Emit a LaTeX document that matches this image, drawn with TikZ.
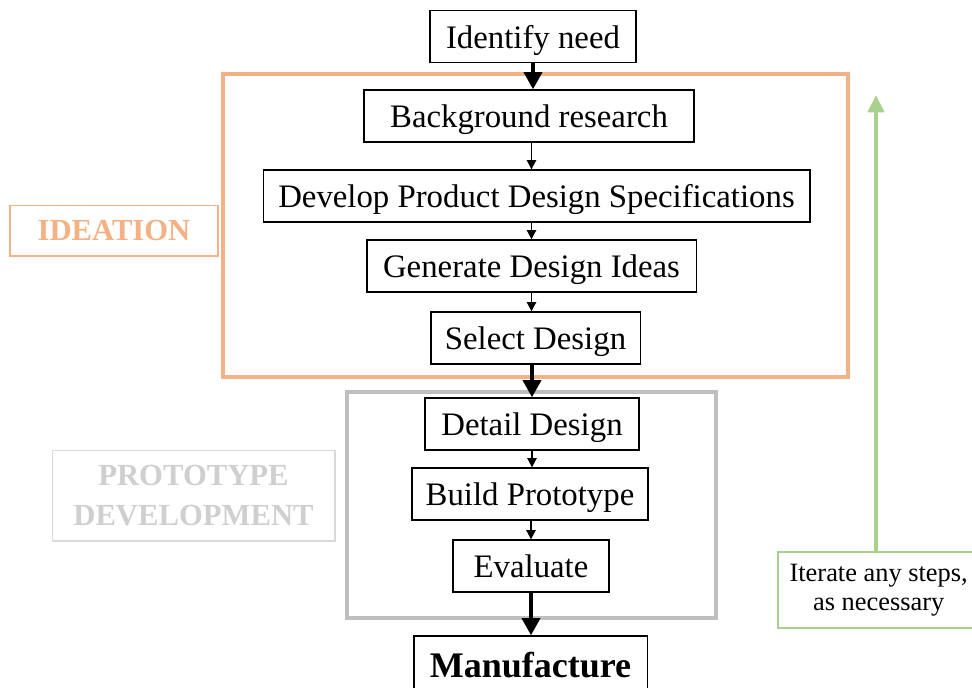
\documentclass[tikz,border=0pt]{standalone}
\usepackage{fontspec}
\setmainfont{Liberation Serif}
\usetikzlibrary{arrows.meta}

\definecolor{ideaorange}{HTML}{F4B183}
\definecolor{protogray}{HTML}{BFBFBF}
\definecolor{labelgray}{HTML}{CFCFCF}
\definecolor{itergreen}{HTML}{A9D18E}

\begin{document}
\begin{tikzpicture}[x=0.75pt, y=-0.75pt,
  stepbox/.style = {shape=rectangle,
    draw, line width=1pt, inner sep=0pt,
    text height=22pt, text depth=4.5pt,
    minimum height=39pt, font=\fontsize{24.6}{28}\selectfont},
  stagebox/.style = {shape=rectangle, line width=1pt, inner sep=0pt,
    align=center, font=\bfseries\fontsize{23}{30}\selectfont},
  bigarrow/.style = {line width=3pt, -{Triangle[width=13.5pt,length=13pt]}},
  smallarrow/.style = {line width=1.3pt, -{Triangle[width=7pt,length=7pt]}}]
  \useasboundingbox (0,0) rectangle (972,687);

  % stage frames
  \draw[ideaorange, line width=3pt] (223,74) rectangle (848,377);
  \draw[protogray, line width=3.5pt] (347,392) rectangle (716,618);

  % stage labels
  \node[stagebox, draw=ideaorange, text=ideaorange,
    minimum width=156pt, minimum height=38pt] (ideation) at (114,230.5) {IDEATION};
  \node[stagebox, draw=labelgray!80, text=labelgray,
    minimum width=212pt, minimum height=68pt] (proto) at (193.5,495.5) {PROTOTYPE\\DEVELOPMENT};

  % design steps
  \node[stepbox, minimum width=154.5pt] (need) at (533,36.5) {Identify need};
  \node[stepbox, minimum width=247.5pt] (research) at (529,116) {Background research};
  \node[stepbox, minimum width=410pt] (pds) at (536.5,196) {Develop Product Design Specifications};
  \node[stepbox, minimum width=247pt] (ideas) at (531.5,266) {Generate Design Ideas};
  \node[stepbox, minimum width=157pt] (select) at (535.5,338) {Select Design};
  \node[stepbox, minimum width=160.5pt] (detail) at (532,424) {Detail Design};
  \node[stepbox, minimum width=177pt] (build) at (530,494) {Build Prototype};
  \node[stepbox, minimum width=117pt] (evaluate) at (531,566) {Evaluate};
  \node[stepbox, minimum width=175pt, minimum height=45pt,
    font=\bfseries\fontsize{27}{30}\selectfont] (manufacture) at (530.5,666) {Manufacture};

  % flow
  \draw[bigarrow] (need.south) -- (need.south |- research.north);
  \draw[smallarrow] (research.south -| ideas) -- (pds.north -| ideas);
  \draw[smallarrow] (pds.south -| ideas) -- (ideas.north);
  \draw[smallarrow] (ideas.south) -- (ideas.south |- select.north);
  \draw[bigarrow] (detail.north |- select.south) -- (detail.north);
  \draw[smallarrow] (detail.south) -- (detail.south |- build.north);
  \draw[smallarrow] (evaluate.north |- build.south) -- (evaluate.north);
  \draw[bigarrow] (evaluate.south) -- (evaluate.south |- manufacture.north);

  % iteration loop
  \node[shape=rectangle, draw=itergreen, line width=1pt, align=center,
    minimum width=147pt, minimum height=57pt, inner sep=0pt,
    font=\fontsize{19.8}{22}\selectfont] (iterate) at (876,590)
    {\hspace*{4pt}Iterate any steps,\\\hspace*{4pt}as necessary};
  \coordinate (looptop) at (876,95);
  \draw[itergreen, line width=3pt, -{Triangle[width=12pt,length=13pt]}]
    (iterate.north) -- (looptop);
\end{tikzpicture}
\end{document}
